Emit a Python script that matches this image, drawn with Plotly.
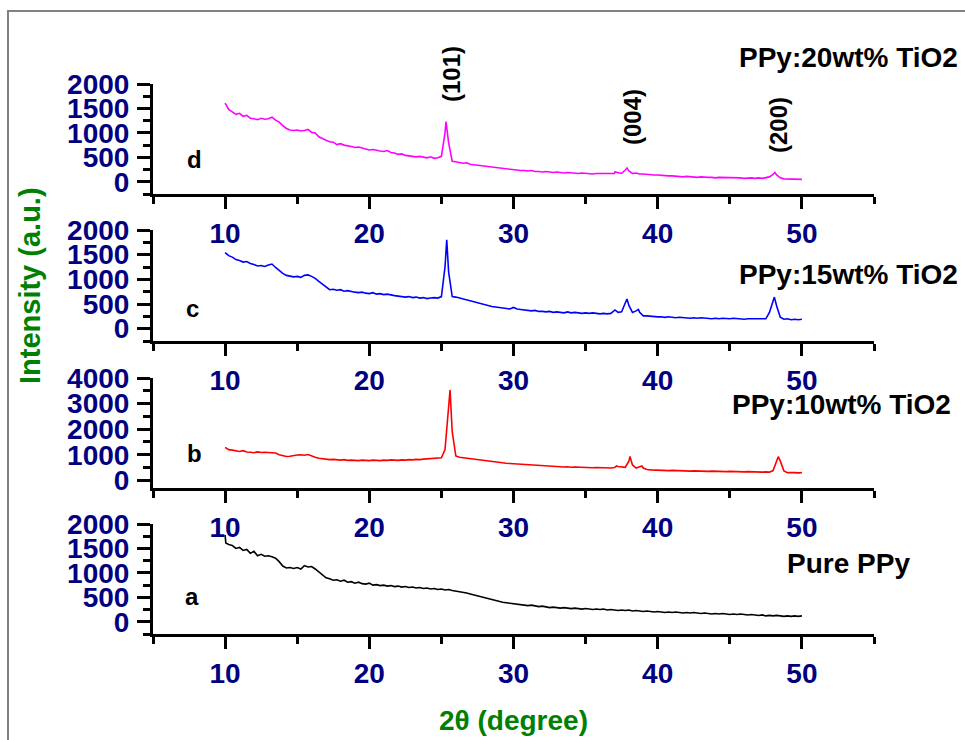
import plotly.graph_objects as go

# ---------------- data ----------------
two_theta = [10.0 + 0.25 * i for i in range(161)]  # 10 .. 50 deg grid

# a: Pure PPy (black)
a_int = [1775, 1580, 1560, 1500, 1520, 1460, 1480, 1400, 1440, 1350, 1380, 1340, 1350, 1330, 1300, 1230,
         1140, 1100, 1110, 1090, 1110, 1080, 1150, 1120, 1130, 1080, 1020, 950, 900, 880, 850, 860,
         830, 850, 810, 820, 790, 810, 780, 770, 790, 750, 760, 740, 750, 730, 740, 720,
         730, 710, 720, 700, 710, 690, 700, 680, 690, 670, 680, 660, 670, 650, 660, 640,
         630, 620, 600, 590, 570, 550, 530, 510, 490, 470, 450, 430, 410, 400, 390, 380,
         370, 360, 350, 340, 330, 340, 320, 310, 320, 300, 290, 300, 290, 280, 290, 280,
         270, 280, 270, 260, 270, 260, 250, 260, 250, 260, 240, 250, 240, 230, 240, 230,
         240, 220, 230, 220, 210, 220, 210, 200, 210, 200, 190, 200, 190, 200, 190, 180,
         190, 180, 190, 180, 170, 180, 170, 160, 170, 160, 170, 160, 150, 160, 150, 160,
         150, 140, 150, 140, 130, 140, 120, 130, 120, 130, 120, 110, 120, 110, 120, 110, 120]
a_extra_x = [10.05]
a_extra_y = [1610]

# b: PPy:10wt% TiO2 (red)
b_int = [1290, 1200, 1180, 1150, 1130, 1160, 1110, 1100, 1080, 1110, 1090, 1100, 1090, 1100, 1070, 1000,
         950, 930, 940, 980, 990, 1000, 980, 1010, 970, 900, 860, 840, 830, 810, 820, 800,
         790, 810, 780, 790, 780, 770, 790, 780, 770, 790, 780, 770, 790, 780, 800, 790,
         780, 800, 790, 810, 800, 820, 810, 830, 840, 830, 850, 860, 880, 1200, 2900, 1900,
         950, 900, 880, 860, 850, 840, 820, 800, 780, 760, 740, 720, 700, 690, 670, 660,
         650, 640, 620, 610, 600, 590, 580, 570, 560, 550, 550, 540, 530, 530, 520, 530,
         510, 520, 510, 500, 510, 500, 490, 500, 490, 500, 490, 480, 500, 540, 520, 510,
         750, 600, 480, 530, 480, 420, 410, 400, 400, 390, 390, 380, 390, 380, 370, 380,
         370, 360, 370, 360, 370, 360, 350, 360, 350, 360, 350, 340, 350, 340, 350, 340,
         330, 340, 330, 340, 330, 320, 330, 320, 380, 800, 760, 370, 300, 310, 300, 290, 300]
b_extra_x = [25.6, 37.15, 38.08, 38.9, 48.36]
b_extra_y = [3530, 560, 930, 560, 925]

# c: PPy:15wt% TiO2 (blue)
c_int = [1540, 1480, 1450, 1400, 1380, 1350, 1360, 1320, 1300, 1270, 1280, 1260, 1290, 1310, 1240, 1180,
         1120, 1080, 1070, 1050, 1060, 1040, 1080, 1090, 1060, 1020, 960, 900, 850, 790, 800, 780,
         790, 760, 770, 750, 740, 730, 740, 720, 710, 730, 700, 710, 690, 700, 680, 670,
         660, 650, 640, 650, 630, 640, 620, 630, 610, 620, 630, 620, 650, 1250, 1150, 650,
         640, 620, 600, 580, 560, 540, 520, 500, 480, 470, 450, 440, 430, 420, 410, 400,
         430, 400, 390, 380, 370, 360, 370, 350, 350, 340, 350, 330, 340, 330, 320, 340,
         320, 330, 320, 310, 320, 310, 320, 310, 300, 310, 300, 310, 370, 330, 340, 520,
         470, 330, 360, 330, 260, 260, 250, 250, 240, 240, 230, 240, 230, 220, 230, 220,
         220, 210, 220, 210, 220, 210, 210, 200, 210, 200, 210, 200, 200, 210, 200, 200,
         190, 200, 200, 190, 200, 190, 200, 330, 570, 460, 230, 190, 200, 180, 190, 180, 190]
c_extra_x = [25.37, 37.04, 37.87, 38.66, 48.09]
c_extra_y = [1800, 380, 600, 390, 640]

# d: PPy:20wt% TiO2 (magenta)
d_int = [1610, 1480, 1430, 1380, 1400, 1340, 1360, 1300, 1290, 1270, 1300, 1280, 1290, 1320, 1260, 1220,
         1150, 1090, 1060, 1050, 1060, 1040, 1050, 1070, 1010, 1000, 920, 880, 850, 820, 810, 760,
         780, 750, 740, 720, 700, 710, 690, 670, 650, 660, 640, 630, 620, 640, 600, 590,
         560, 570, 540, 530, 520, 510, 520, 500, 490, 510, 480, 490, 520, 1000, 800, 420,
         410, 400, 380, 390, 360, 350, 340, 340, 320, 310, 300, 300, 280, 270, 260, 250,
         240, 240, 230, 230, 220, 230, 210, 210, 200, 210, 200, 190, 200, 190, 180, 190,
         180, 180, 170, 180, 170, 170, 160, 170, 170, 160, 170, 160, 170, 190, 170, 240,
         220, 170, 180, 160, 160, 150, 150, 140, 140, 130, 130, 120, 120, 110, 110, 100,
         110, 100, 100, 90, 100, 90, 90, 90, 80, 90, 90, 80, 80, 90, 80, 80,
         70, 80, 80, 70, 80, 70, 80, 100, 150, 140, 80, 60, 60, 60, 50, 60, 50]
d_extra_x = [25.32, 37.04, 37.87, 48.13]
d_extra_y = [1230, 200, 280, 190]

panel_letters = ["a", "b", "c", "d"]
sample_names = ["Pure PPy", "PPy:10wt% TiO2", "PPy:15wt% TiO2", "PPy:20wt% TiO2"]
line_colors = ["#000000", "#FF0000", "#0000FF", "#FF00FF"]
y_ranges = [[-250, 2000], [-300, 4000], [-250, 2000], [-250, 2000]]
y_major = [[0, 500, 1000, 1500, 2000], [0, 1000, 2000, 3000, 4000],
           [0, 500, 1000, 1500, 2000], [0, 500, 1000, 1500, 2000]]
y_minor = [[-250, 250, 750, 1250, 1750], [-500, 500, 1500, 2500, 3500],
           [-250, 250, 750, 1250, 1750], [-250, 250, 750, 1250, 1750]]
x_major = [10, 20, 30, 40, 50]
x_minor = [5, 15, 25, 35, 45, 55]
peak_labels = ["(101)", "(004)", "(200)"]

# ---------------- layout helpers ----------------
W, H = 965, 740
FONT = "Liberation Sans, Arial, sans-serif"
NAVY = "#000080"
GREEN = "#008000"


def px(x):
    return x / W


def py(y):
    return 1 - y / H


# pixel extents of each panel (a, b, c, d)
panel_px = [(524, 634), (378, 488), (230, 341), (84, 194)]
x_dom = [px(153), px(874)]

series = [
    (a_int, a_extra_x, a_extra_y),
    (b_int, b_extra_x, b_extra_y),
    (c_int, c_extra_x, c_extra_y),
    (d_int, d_extra_x, d_extra_y),
]

fig = go.Figure()
layout = dict(
    width=W, height=H, autosize=False,
    margin=dict(l=0, r=0, t=0, b=0),
    paper_bgcolor="white", plot_bgcolor="white",
    showlegend=False,
)

for i, (vals, ex, ey) in enumerate(series):
    pts = sorted(list(zip(two_theta, vals)) + list(zip(ex, ey)))
    xs = [p[0] for p in pts]
    ys = [p[1] for p in pts]
    sfx = "" if i == 0 else str(i + 1)
    fig.add_trace(go.Scatter(x=xs, y=ys, mode="lines",
                             line=dict(color=line_colors[i], width=1.6),
                             xaxis="x" + sfx, yaxis="y" + sfx,
                             hoverinfo="skip"))
    top, bot = panel_px[i]
    layout["xaxis" + sfx] = dict(
        domain=x_dom, range=[5, 55], anchor="y" + sfx,
        showline=True, linewidth=3, linecolor="black",
        ticks="outside", ticklen=12, tickwidth=3, tickcolor="black",
        tickvals=x_major, ticktext=[str(v) for v in x_major],
        minor=dict(tickvals=x_minor, ticks="outside", ticklen=7, tickwidth=3,
                   tickcolor="black", showgrid=False),
        showgrid=False, zeroline=False, automargin=False,
        ticklabelstandoff=0,
        tickfont=dict(family=FONT, size=28, color=NAVY, weight="bold"),
    )
    layout["yaxis" + sfx] = dict(
        domain=[py(bot), py(top)], range=y_ranges[i], anchor="x" + sfx,
        showline=True, linewidth=3, linecolor="black",
        ticks="outside", ticklen=13, tickwidth=3, tickcolor="black",
        tickvals=y_major[i], ticktext=[str(v) for v in y_major[i]],
        minor=dict(tickvals=y_minor[i], ticks="outside", ticklen=7, tickwidth=3,
                   tickcolor="black", showgrid=False),
        showgrid=False, zeroline=False, automargin=False,
        ticklabelstandoff=2,
        tickfont=dict(family=FONT, size=28, color=NAVY, weight="bold"),
    )

annotations = []
# panel letters
letter_pos = [(192, 596), (194, 454), (192, 308), (194, 159)]
for t, (x, y) in zip(panel_letters, letter_pos):
    annotations.append(dict(text=t, x=px(x), y=py(y), xref="paper", yref="paper",
                            xanchor="center", yanchor="middle", showarrow=False,
                            font=dict(family=FONT, size=24, color="black", weight="bold")))
# sample names
name_pos = [(785, 563), (730, 405), (737, 274), (737, 58)]
for t, (x, y) in zip(sample_names, name_pos):
    annotations.append(dict(text=t, x=px(x), y=py(y), xref="paper", yref="paper",
                            xanchor="left", yanchor="middle", showarrow=False,
                            font=dict(family=FONT, size=28, color="black", weight="bold")))
# peak labels
peak_pos = [(452, 74), (632, 117), (779, 125)]
for t, (x, y) in zip(peak_labels, peak_pos):
    annotations.append(dict(text=t, x=px(x), y=py(y), xref="paper", yref="paper",
                            xanchor="center", yanchor="middle", showarrow=False, textangle=-90,
                            font=dict(family=FONT, size=24, color="black", weight="bold")))
# axis titles
annotations.append(dict(text="Intensity (a.u.)", x=px(30), y=py(286), xref="paper", yref="paper",
                        xanchor="center", yanchor="middle", showarrow=False, textangle=-90,
                        font=dict(family=FONT, size=29, color=GREEN, weight="bold")))
annotations.append(dict(text="2θ (degree)", x=px(513), y=py(720), xref="paper", yref="paper",
                        xanchor="center", yanchor="middle", showarrow=False,
                        font=dict(family=FONT, size=28, color=GREEN, weight="bold")))

layout["annotations"] = annotations
layout["shapes"] = [dict(type="rect", xref="paper", yref="paper",
                         x0=px(8), x1=1.05, y0=-0.05, y1=py(11),
                         line=dict(color="#808080", width=2), fillcolor="rgba(0,0,0,0)",
                         layer="above")]

fig.update_layout(**layout)
fig.write_html("out.html", config={"displayModeBar": False},
               post_script="document.body.style.margin='0';document.body.style.overflow='hidden';")
